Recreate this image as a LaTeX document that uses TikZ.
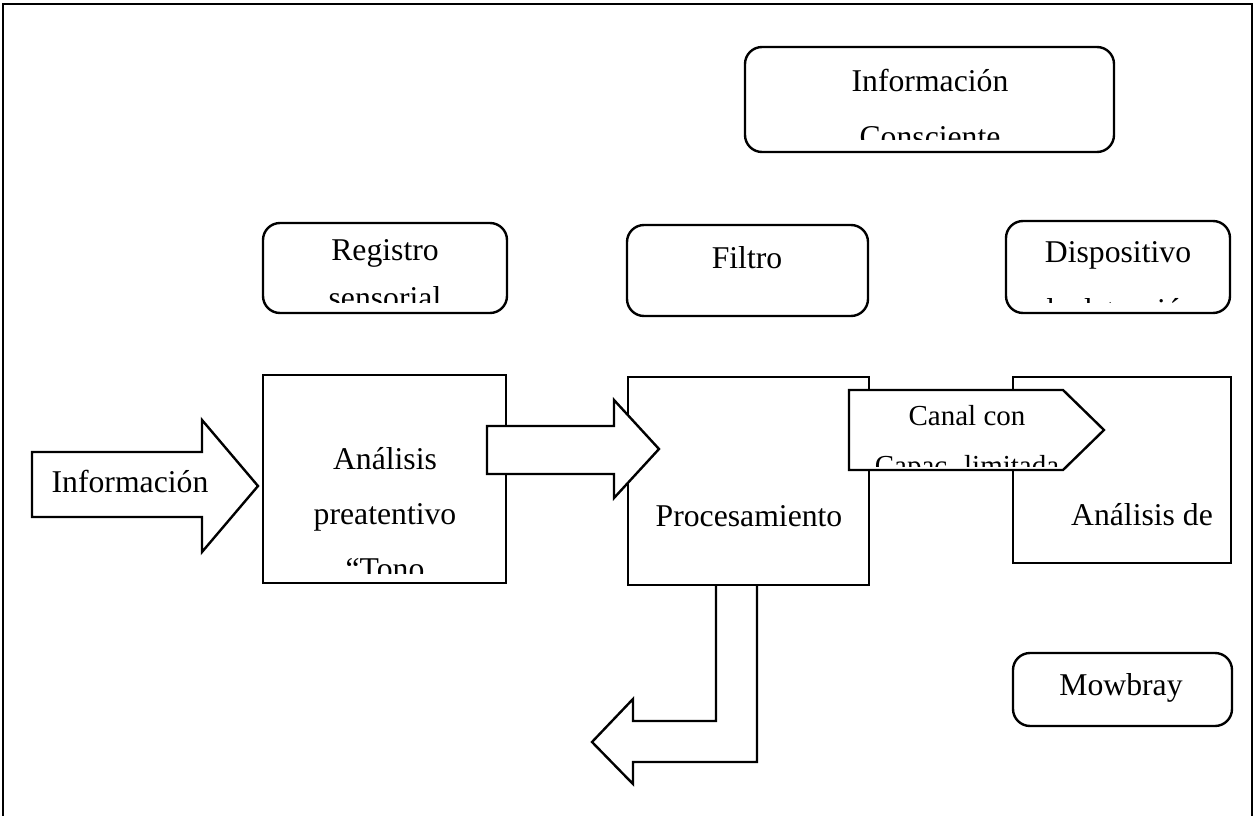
\documentclass[tikz,border=0pt]{standalone}
\usepackage{fontspec}
\setmainfont{Liberation Serif}
\begin{document}
\begin{tikzpicture}[x=1pt,y=-1pt,
  box/.style={draw, line width=2.4pt, fill=white, inner sep=0pt, outer sep=0pt},
  rbox/.style={box, rounded corners=17pt},
  blk/.style={draw, line width=2.4pt, fill=white, line join=miter},
  txt/.style={anchor=base, inner sep=0pt, font=\fontsize{31.7}{38}\selectfont},
  stxt/.style={anchor=base, inner sep=0pt, font=\fontsize{29}{35}\selectfont},
  frame/.style={draw, line width=1.8pt}]
\useasboundingbox (0,0) rectangle (1256,816);
% outer frame (open at the bottom)
\draw[frame] (3,816) -- (3,4) -- (1252,4) -- (1252,816);

% bent arrow leaving the processing box (drawn first, box edge stays on top)
\draw[blk] (716,585) -- (716,721) -- (633,721) -- (633,699) -- (592,742) -- (633,784) -- (633,762) -- (757,762) -- (757,585);

% rounded boxes
\node[rbox, minimum width=369pt, minimum height=105pt] (cons) at (929.5,99.5) {};
\node[rbox, minimum width=244pt, minimum height=90pt] (reg) at (385,268) {};
\node[rbox, minimum width=241pt, minimum height=91pt] (fil) at (747.5,270.5) {};
\node[rbox, minimum width=224pt, minimum height=92pt] (disp) at (1118,267) {};
\node[rbox, minimum width=219pt, minimum height=73pt] (mow) at (1122.5,689.5) {};
% square boxes
\node[box, minimum width=243pt, minimum height=208pt] (pre) at (384.5,479) {};
\node[box, minimum width=241pt, minimum height=208pt] (proc) at (748.5,481) {};
\node[box, minimum width=218pt, minimum height=186pt] (anal) at (1122,470) {};

% block arrows
\draw[blk] (32,452) -- (202,452) -- (202,420) -- (258,486) -- (202,552) -- (202,517) -- (32,517) -- cycle;
\draw[blk] (487,426) -- (614,426) -- (614,400) -- (659,449) -- (614,498) -- (614,474) -- (487,474) -- cycle;
\draw[blk] (849,390) -- (1063,390) -- (1104,430) -- (1063,470) -- (849,470) -- cycle;

% texts
\node[txt] (tinfo) at (130,492) {Información};
\node[txt] (tfil) at (747,268) {Filtro};
\node[txt] (tmow) at (1121,695) {Mowbray};
\node[txt] (tproc) at (749,526) {Procesamiento};
\node[txt] (tanal) at (1142,525) {Análisis de};

\begin{scope}
\clip (748,50) rectangle (1111,139);
\node[txt] (tcons1) at (930,92) {Información};
\node[txt] (tcons2) at (930,147) {Consciente};
\end{scope}
\begin{scope}
\clip (266,226) rectangle (504,302);
\node[txt] (treg1) at (385,260) {Registro};
\node[txt] (treg2) at (385,308) {sensorial};
\end{scope}
\begin{scope}
\clip (1009,224) rectangle (1227,302);
\node[txt] (tdisp1) at (1118,262) {Dispositivo};
\node[txt] (tdisp2) at (1118,320) {de detección};
\end{scope}
\begin{scope}
\clip (266,378) rectangle (503,573);
\node[txt] (tpre1) at (385,469) {Análisis};
\node[txt] (tpre2) at (385,524) {preatentivo};
\node[txt] (tpre3) at (385,579) {“Tono};
\end{scope}
\begin{scope}
\clip (851,392) rectangle (1100,466);
\node[stxt] (tcan1) at (967,425) {Canal con};
\node[stxt] (tcan2) at (967,475) {Capac. limitada};
\end{scope}
\end{tikzpicture}
\end{document}
